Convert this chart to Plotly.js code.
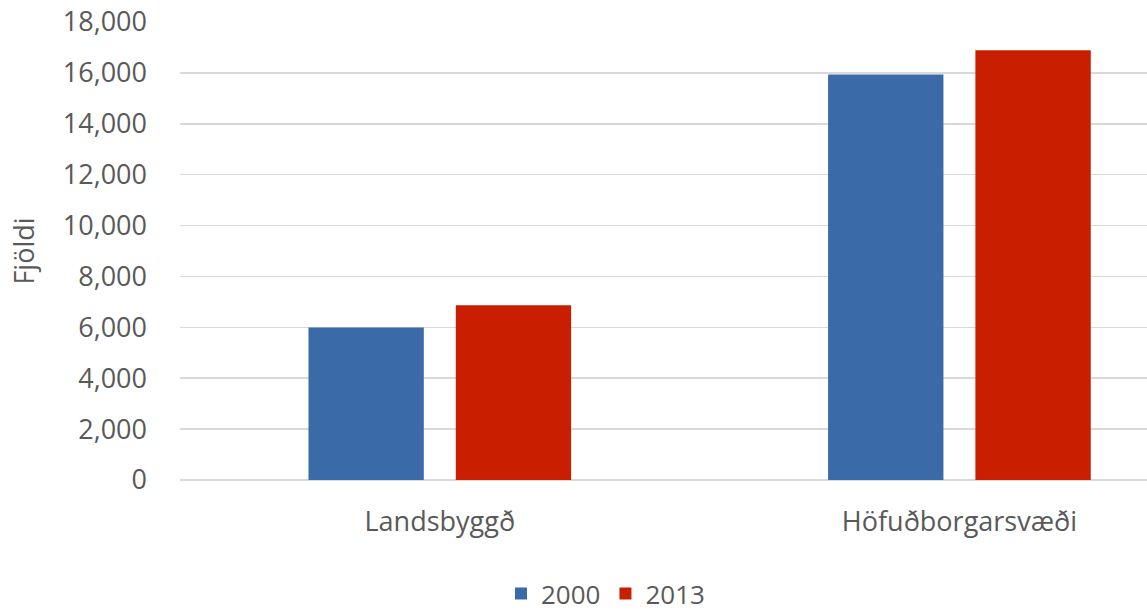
<!DOCTYPE html>
<html>
<head>
<meta charset="utf-8">
<script src="https://cdn.plot.ly/plotly-3.0.1.min.js"></script>
<style>html,body{margin:0;padding:0;background:#fff}#chart{width:1147px;height:616px}</style>
</head>
<body>
<div id="chart"></div>
<script>
const categories = ["Landsbyggð", "Höfuðborgarsvæði"];
const seriesNames = ["2000", "2013"];
const values2000 = [5990, 15940];
const values2013 = [6870, 16890];
const yTickVals = [0, 2000, 4000, 6000, 8000, 10000, 12000, 14000, 16000, 18000];
const yTickText = ["0", "2,000", "4,000", "6,000", "8,000", "10,000", "12,000", "14,000", "16,000", "18,000"];

const fontFam = "Open Sans, DejaVu Sans, sans-serif";
const gray = "#595959";

const traces = [
  {type: "bar", name: seriesNames[0], x: categories, y: values2000, marker: {color: "#3a6aa8"}},
  {type: "bar", name: seriesNames[1], x: categories, y: values2013, marker: {color: "#c91e00"}}
];

const layout = {
  width: 1147, height: 616,
  margin: {l: 180, r: 0, t: 22, b: 136, autoexpand: false},
  paper_bgcolor: "#fff", plot_bgcolor: "#fff",
  barmode: "group", bargap: 0.433, bargroupgap: 0.217,
  showlegend: true,
  legend: {orientation: "h", x: 0.44, xanchor: "center", y: -0.248, yanchor: "middle",
           font: {family: fontFam, size: 26, color: gray}, traceorder: "normal"},
  xaxis: {range: [-0.5, 1.361], showgrid: false, zeroline: false, showline: false,
          ticks: "", tickfont: {family: fontFam, size: 27, color: gray}, ticklabelstandoff: 23},
  yaxis: {range: [0, 18000], tickvals: yTickVals, ticktext: yTickText,
          gridcolor: "#d9d9d9", gridwidth: 1.5, zeroline: true, zerolinecolor: "#d9d9d9", zerolinewidth: 1.5,
          showline: false, ticks: "", tickfont: {family: fontFam, size: 27, color: gray},
          ticklabelstandoff: 32,
          title: {text: "Fjöldi", font: {family: fontFam, size: 27, color: gray}, standoff: 20}}
};

Plotly.newPlot("chart", traces, layout, {displayModeBar: false, staticPlot: true});
</script>
</body>
</html>
